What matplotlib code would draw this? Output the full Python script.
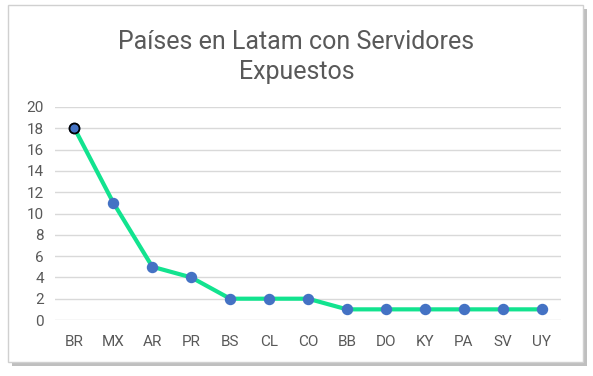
import matplotlib.pyplot as plt
from matplotlib.patches import Rectangle

plt.rcParams['font.family'] = ['Roboto', 'DejaVu Sans']

paises = ['BR', 'MX', 'AR', 'PR', 'BS', 'CL', 'CO', 'BB', 'DO', 'KY', 'PA', 'SV', 'UY']
servidores = [18, 11, 5, 4, 2, 2, 2, 1, 1, 1, 1, 1, 1]
y_ticks = list(range(0, 21, 2))

fig = plt.figure(figsize=(5.93, 3.76), dpi=100)
fig.patch.set_facecolor('white')

# marco con sombra
sombra = Rectangle((12 / 593, 1 - 366 / 376), 575 / 593, 357 / 376,
                   transform=fig.transFigure, facecolor='#bfbfbf', edgecolor='none', zorder=0)
marco = Rectangle((8 / 593, 1 - 362 / 376), 575 / 593, 357 / 376,
                  transform=fig.transFigure, facecolor='white', edgecolor='#d0d0d0',
                  linewidth=1, zorder=1)
fig.patches.extend([sombra, marco])

ax = fig.add_axes([55 / 593, 1 - 320 / 376, 506 / 593, 213 / 376])
ax.set_zorder(5)
ax.set_facecolor('none')
x = range(len(paises))
ax.plot(x, servidores, color='#12E38F', linewidth=3, zorder=3)
ax.scatter(x, servidores, s=52, color='#4472C4', zorder=4)
ax.scatter([0], [servidores[0]], s=52, color='#4472C4', edgecolors='black', linewidths=1.3, zorder=5)

ax.set_xlim(-0.5, len(paises) - 0.5)
ax.set_ylim(0, 20)
ax.set_yticks(y_ticks)
ax.set_xticks(list(x))
ax.set_xticklabels(paises)
ax.grid(axis='y', color='#d9d9d9', linewidth=1)
ax.set_axisbelow(True)
for s in ax.spines.values():
    s.set_visible(False)
ax.tick_params(length=0, labelsize=11, colors='#595959')
ax.tick_params(axis='x', pad=11)
ax.tick_params(axis='y', pad=8)

fig.text(0.5, 1 - 57 / 376, 'Países en Latam con Servidores\nExpuestos', ha='center', va='center',
         fontsize=18, color='#595959', linespacing=1.3, zorder=6)

fig.savefig('out.png', dpi=100)
